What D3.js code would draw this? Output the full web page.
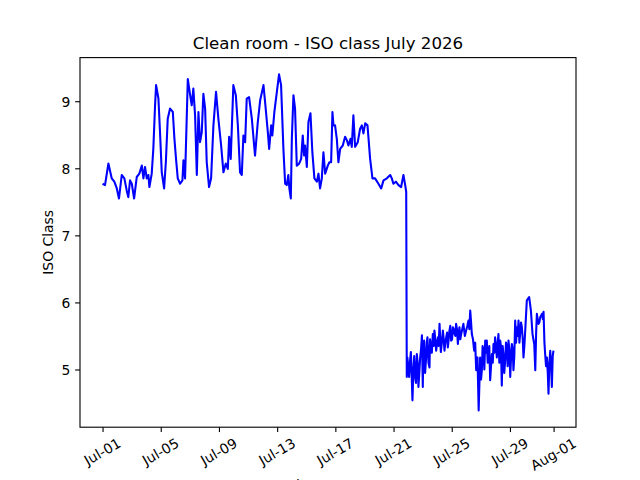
<!DOCTYPE html>
<html>
<head>
<meta charset="utf-8">
<script src="https://cdn.jsdelivr.net/npm/d3@7"></script>
<style>
  body { margin: 0; background: #fff; }
  svg { font-family: "DejaVu Sans", sans-serif; }
</style>
</head>
<body>
<script>
// chart text
var title = "Clean room - ISO class July 2026";
var yLabel = "ISO Class";
var xLabel = "timestamp";

// days since 2026-07-01 00:00 UTC
var days = [
  0.00, 0.17, 0.40, 0.63, 0.81, 0.98, 1.13, 1.32, 1.50, 1.66, 1.77, 1.89, 2.01, 2.17, 2.35, 2.53,
  2.70, 2.81, 2.92, 3.04, 3.15, 3.22, 3.38, 3.49, 3.61, 3.68, 3.84, 3.95, 4.07, 4.23, 4.35, 4.48,
  4.64, 4.83, 4.94, 5.05, 5.17, 5.33, 5.49, 5.56, 5.67, 5.86, 6.02, 6.13, 6.24, 6.36, 6.48, 6.59,
  6.70, 6.82, 6.93, 7.05, 7.16, 7.32, 7.46, 7.62, 7.80, 7.96, 8.15, 8.31, 8.47, 8.61, 8.70, 8.81,
  8.99, 9.16, 9.30, 9.45, 9.57, 9.68, 9.80, 9.91, 10.07, 10.26, 10.48, 10.67, 10.83, 11.06, 11.17, 11.36,
  11.45, 11.59, 11.67, 11.81, 11.98, 12.13, 12.27, 12.43, 12.55, 12.66, 12.77, 12.84, 12.94, 13.01, 13.12, 13.23,
  13.35, 13.51, 13.65, 13.76, 13.85, 13.92, 14.04, 14.15, 14.29, 14.42, 14.56, 14.73, 14.84, 14.95, 15.07, 15.18,
  15.30, 15.48, 15.59, 15.71, 15.80, 15.87, 15.98, 16.10, 16.21, 16.33, 16.51, 16.67, 16.79, 16.90, 17.04, 17.13,
  17.24, 17.36, 17.54, 17.70, 17.82, 17.93, 18.05, 18.21, 18.39, 18.55, 18.73, 18.96, 19.15, 19.31, 19.54, 19.77,
  19.88, 19.99, 20.16, 20.34, 20.52, 20.68, 20.80, 20.87, 20.91, 20.95, 21.07, 21.19, 21.30, 21.37, 21.48, 21.60,
  21.71, 21.83, 21.95, 22.01, 22.10, 22.24, 22.33, 22.47, 22.56, 22.70, 22.81, 22.93, 23.05, 23.16, 23.25, 23.39,
  23.50, 23.62, 23.73, 23.84, 23.96, 24.08, 24.19, 24.30, 24.42, 24.53, 24.65, 24.80, 24.99, 25.15, 25.27, 25.38,
  25.54, 25.68, 25.77, 25.85, 25.95, 26.07, 26.18, 26.30, 26.41, 26.52, 26.64, 26.76, 26.87, 26.98, 27.10, 27.21,
  27.33, 27.44, 27.55, 27.67, 27.79, 27.90, 28.02, 28.13, 28.24, 28.36, 28.48, 28.59, 28.70, 28.82, 28.93, 29.05,
  29.16, 29.32, 29.44, 29.55, 29.67, 29.74, 29.85, 29.96, 30.08, 30.20, 30.31, 30.42, 30.54, 30.65, 30.77, 30.88,
  30.99
];

var isoClass = [
  7.77, 7.75, 8.07, 7.85, 7.80, 7.70, 7.55, 7.90, 7.85, 7.67, 7.57, 7.82, 7.77, 7.55, 7.87, 7.92,
  8.04, 7.85, 8.02, 7.85, 7.90, 7.72, 7.92, 8.29, 8.94, 9.24, 9.04, 8.54, 7.94, 7.70, 8.09, 8.74,
  8.89, 8.84, 8.44, 8.14, 7.85, 7.77, 7.82, 8.12, 7.85, 9.33, 9.09, 8.94, 9.19, 8.79, 7.90, 8.84,
  8.39, 8.54, 9.11, 8.89, 8.09, 7.72, 7.85, 8.64, 9.14, 8.74, 8.34, 7.94, 8.07, 7.99, 8.47, 8.14,
  9.24, 9.09, 8.64, 7.94, 7.90, 8.49, 8.39, 9.04, 9.06, 8.74, 8.19, 8.69, 9.01, 9.24, 8.99, 8.54,
  8.29, 8.64, 8.49, 8.84, 9.14, 9.40, 9.24, 8.29, 7.77, 7.75, 7.90, 7.70, 7.55, 8.44, 9.09, 8.89,
  8.04, 8.07, 8.14, 8.49, 8.19, 8.34, 8.02, 8.69, 8.82, 8.24, 7.85, 7.80, 7.92, 7.70, 7.85, 8.24,
  7.92, 8.04, 8.09, 8.09, 8.84, 8.64, 8.64, 8.44, 8.09, 8.29, 8.34, 8.47, 8.42, 8.34, 8.44, 8.32,
  8.79, 8.32, 8.39, 8.59, 8.64, 8.52, 8.67, 8.64, 8.14, 7.85, 7.85, 7.77, 7.70, 7.82, 7.85, 7.90,
  7.85, 7.77, 7.80, 7.75, 7.72, 7.90, 7.75, 7.65, 4.89, 5.18, 4.89, 5.26, 4.54, 5.03, 4.89, 5.23,
  4.74, 5.18, 5.51, 4.74, 5.43, 5.18, 5.48, 5.03, 5.33, 5.53, 5.58, 5.28, 5.48, 5.68, 5.26, 5.58,
  5.28, 5.48, 5.33, 5.58, 5.43, 5.63, 5.53, 5.68, 5.38, 5.63, 5.53, 5.68, 5.58, 5.73, 5.88, 5.53,
  5.28, 4.99, 5.18, 4.39, 5.18, 4.99, 5.28, 5.43, 5.43, 5.18, 4.84, 5.23, 5.38, 5.48, 5.18, 5.53,
  5.43, 4.76, 5.23, 5.13, 5.33, 5.43, 4.89, 5.38, 4.99, 5.73, 5.63, 5.73, 5.53, 5.63, 5.18, 5.58,
  6.03, 6.08, 5.88, 5.53, 5.38, 4.99, 5.83, 5.68, 5.78, 5.83, 5.86, 5.23, 5.18, 4.64, 5.28, 4.74,
  5.28
];

// extra readings inside the dense, noisy band after Jul-21
var bandDays = [
  21.13, 21.24, 21.42, 21.54, 21.66, 21.77, 21.89, 22.05, 22.17, 22.28, 22.40, 22.51, 22.63, 22.76,
  22.87, 22.99, 23.10, 23.20, 23.32, 23.45, 23.56, 23.68, 23.79, 23.90, 24.02, 24.14, 24.25, 24.36,
  24.48, 24.59, 24.72, 24.90, 25.07, 25.21, 25.33, 25.46, 25.61,
  26.01, 26.12, 26.24, 26.36, 26.47, 26.58, 26.70, 26.82, 26.93, 27.04, 27.16, 27.27, 27.38, 27.50,
  27.61, 27.73, 27.84, 27.96, 28.07, 28.19, 28.30, 28.42, 28.53, 28.65, 28.76, 28.88, 28.99,
  29.61, 29.80, 30.02, 30.14, 30.26, 30.37, 30.48, 30.60, 30.71, 30.83, 30.94
];
var bandIso = [
  5.12, 4.95, 5.20, 4.80, 5.10, 4.95, 5.30, 5.30, 4.95, 5.40, 5.10, 5.45, 5.25, 5.35,
  5.45, 5.40, 5.35, 5.50, 5.40, 5.45, 5.40, 5.55, 5.45, 5.65, 5.45, 5.60, 5.50, 5.60,
  5.55, 5.45, 5.60, 5.50, 5.65, 5.60, 5.70, 5.45, 5.40,
  4.85, 5.35, 5.00, 5.25, 5.10, 5.35, 5.05, 5.10, 5.25, 5.35, 5.40, 5.10, 5.35, 5.35,
  4.95, 5.40, 5.05, 5.30, 5.15, 5.30, 5.20, 5.40, 5.50, 5.40, 5.70, 5.45, 5.35,
  5.45, 5.55, 5.70, 5.80, 5.75, 5.40, 5.05, 4.95, 5.10, 5.05, 5.20
];

// tick positions
var xTickDates = ["2026-07-01", "2026-07-05", "2026-07-09", "2026-07-13", "2026-07-17",
                  "2026-07-21", "2026-07-25", "2026-07-29", "2026-08-01"];
var yTicks = [5, 6, 7, 8, 9];

var W = 640, H = 480;
var margin = {top: 57.6, right: 64, bottom: 52.8, left: 80};
var width = W - margin.left - margin.right,
    height = H - margin.top - margin.bottom;

var start = Date.UTC(2026, 6, 1);
function toRow(d, v) { return {t: new Date(start + d * 86400000), v: v}; }
var data = days.map(function(d, i) { return toRow(d, isoClass[i]); })
  .concat(bandDays.map(function(d, i) { return toRow(d, bandIso[i]); }))
  .sort(function(a, b) { return a.t - b.t; });

var fs = 13.89;         // 10pt at 100 dpi
var tickLen = 4.86, tickPad = 4.86;

// ranges with 5% padding like matplotlib
var xExt = d3.extent(data, function(d) { return +d.t; });
var xPad = (xExt[1] - xExt[0]) * 0.05;
var x = d3.scaleUtc()
    .domain([new Date(xExt[0] - xPad), new Date(xExt[1] + xPad)])
    .range([0, width]);

var yExt = d3.extent(data, function(d) { return d.v; });
var yPad = (yExt[1] - yExt[0]) * 0.05;
var y = d3.scaleLinear()
    .domain([yExt[0] - yPad, yExt[1] + yPad])
    .range([height, 0]);

var line = d3.line()
    .x(function(d) { return x(d.t); })
    .y(function(d) { return y(d.v); });

var svg = d3.select("body").append("svg")
    .attr("width", W)
    .attr("height", H);

var g = svg.append("g")
    .attr("transform", "translate(" + margin.left + "," + margin.top + ")");

// data line
g.append("path")
    .datum(data)
    .attr("fill", "none")
    .attr("stroke", "#0000ff")
    .attr("stroke-width", 2.08)
    .attr("stroke-linejoin", "round")
    .attr("d", line);

// frame
g.append("rect")
    .attr("width", width)
    .attr("height", height)
    .attr("fill", "none")
    .attr("stroke", "#000")
    .attr("stroke-width", 1.11);

// y axis
var yAxis = g.append("g")
    .call(d3.axisLeft(y).tickValues(yTicks).tickSize(tickLen).tickPadding(tickPad)
      .tickFormat(d3.format("d")));
yAxis.select(".domain").remove();
yAxis.selectAll("line").attr("stroke", "#000").attr("stroke-width", 1.11);
yAxis.selectAll("text")
    .attr("font-family", "DejaVu Sans")
    .attr("font-size", fs)
    .attr("fill", "#000")
    .attr("dy", "0.36em");

// x axis
var fmt = d3.utcFormat("%b-%d");
var xTicks = xTickDates.map(function(s) { return new Date(s + "T00:00:00Z"); });
var xAxis = g.append("g")
    .attr("transform", "translate(0," + height + ")")
    .call(d3.axisBottom(x).tickValues(xTicks).tickSize(tickLen).tickFormat(fmt));
xAxis.select(".domain").remove();
xAxis.selectAll("line").attr("stroke", "#000").attr("stroke-width", 1.11);

// rotated labels: rotated box top sits below the tick, centred on it
var maxBox = 0;
xAxis.selectAll("text")
    .attr("font-family", "DejaVu Sans")
    .attr("font-size", fs)
    .attr("fill", "#000")
    .attr("text-anchor", "middle")
    .attr("dy", null)
    .attr("y", 0.26 * fs)
    .each(function() {
      var w = this.getComputedTextLength();
      var boxH = w * 0.5 + fs * Math.cos(Math.PI / 6);
      maxBox = Math.max(maxBox, boxH);
      var cy = tickLen + tickPad + boxH / 2;
      d3.select(this).attr("transform", "translate(0," + cy + ") rotate(-30)");
    });

// axis labels (the x label runs off the bottom edge, as in the original figure)
g.append("text")
    .attr("x", width / 2)
    .attr("y", height + tickLen + tickPad + maxBox + 5.56 + 0.76 * fs)
    .attr("text-anchor", "middle")
    .attr("font-size", fs)
    .text(xLabel);

g.append("text")
    .attr("transform", "translate(" + (-tickLen - tickPad - 8.8 - 5.56 - 0.24 * fs) + "," + (height / 2) + ") rotate(-90)")
    .attr("text-anchor", "middle")
    .attr("font-size", fs)
    .text(yLabel);

// title
g.append("text")
    .attr("x", width / 2)
    .attr("y", -8.33)
    .attr("text-anchor", "middle")
    .attr("font-size", 16.67)
    .text(title);
</script>
</body>
</html>
